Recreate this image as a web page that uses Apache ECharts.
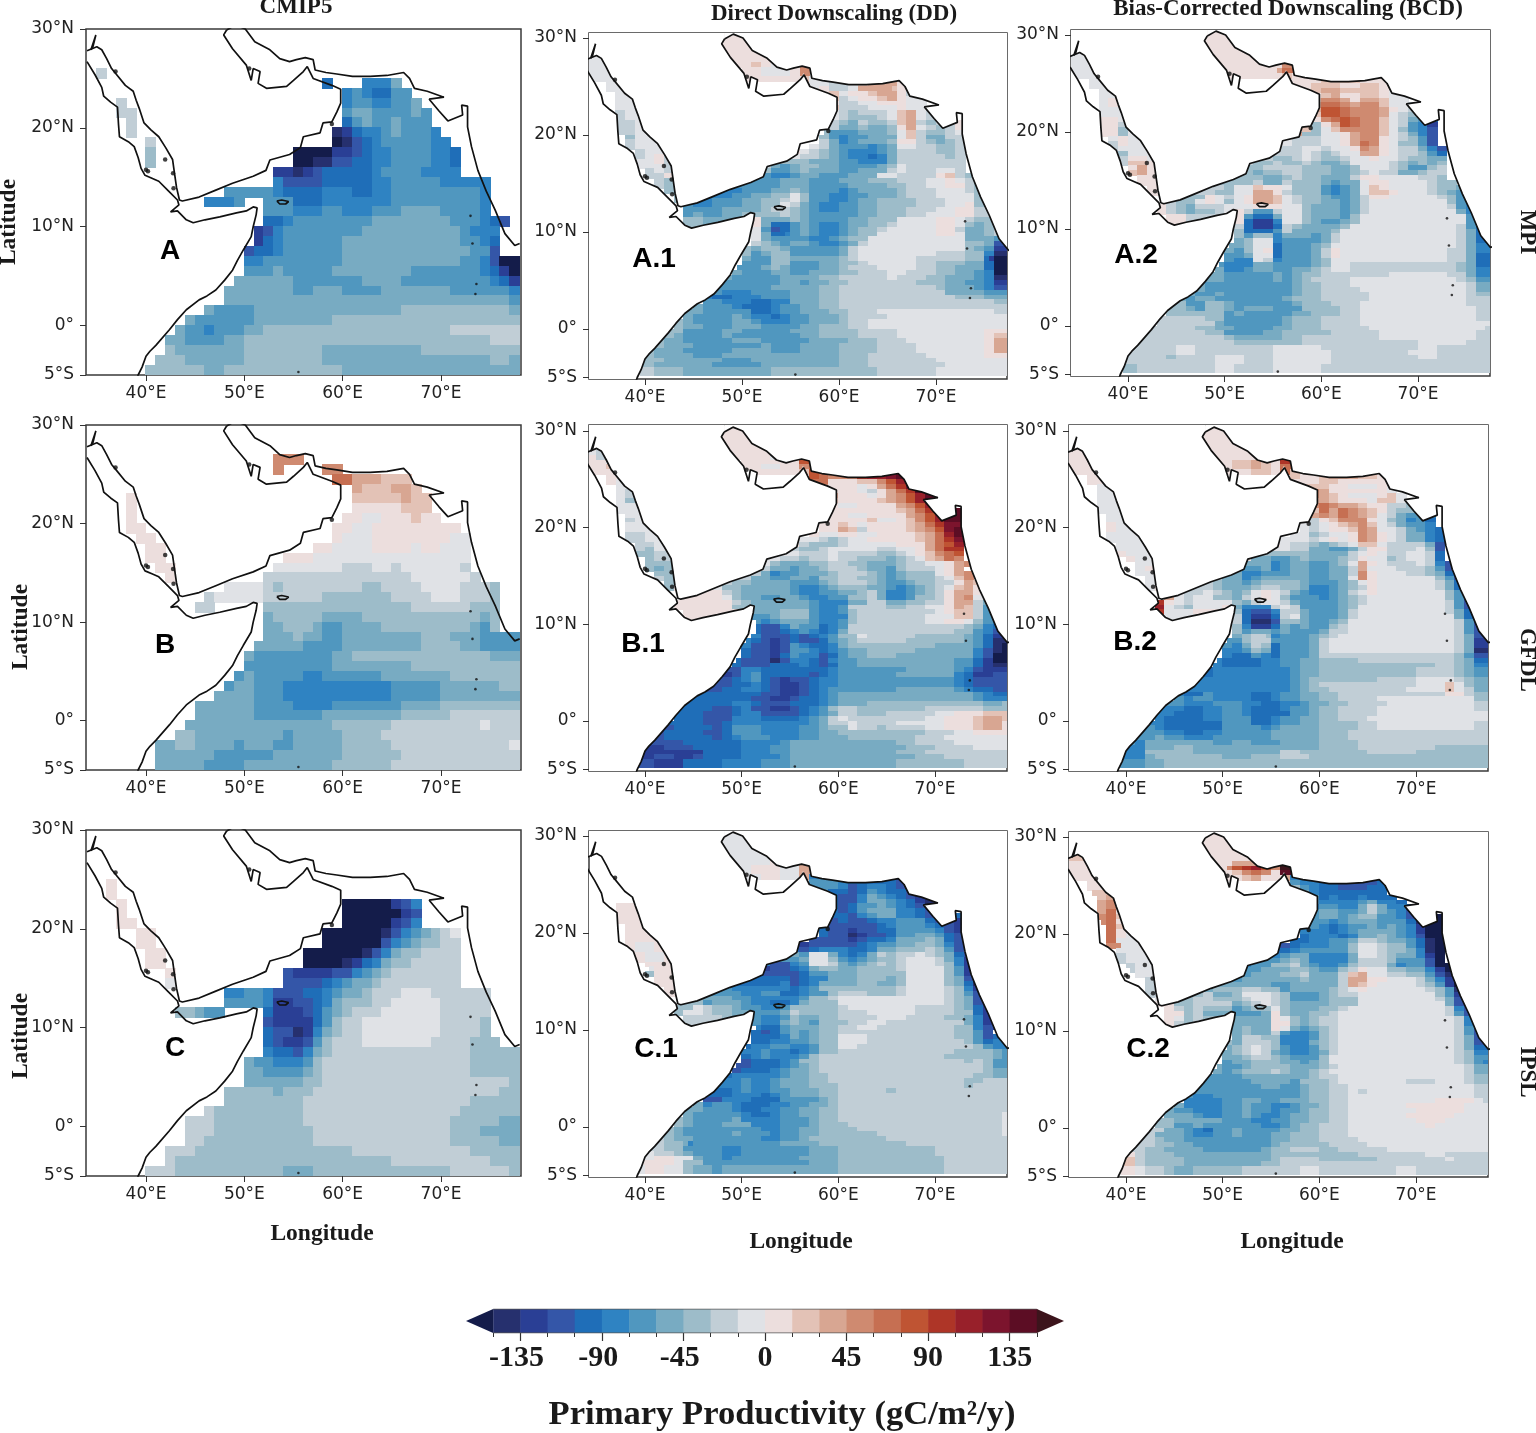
<!DOCTYPE html>
<html><head><meta charset="utf-8">
<style>html,body{margin:0;padding:0;background:#fff}#c{width:1536px;height:1433px}</style>
<script src="https://cdn.jsdelivr.net/npm/echarts@6/dist/echarts.min.js"></script>
</head><body><div id="c"></div>
<script>
// Colour levels: a..t = 15-wide classes from -150 to 150; @ below -150, ^ above 150; x = no data
const levelColors = ['#26306e','#2a3f95','#3456a8','#1f6eb8','#2f83c2','#5097bf','#78abc2','#9dbcc9','#c1ced6','#e0e2e6','#ecdedd','#e3c2b6','#d8a692','#cf8a70','#c66f52','#bf5433','#ae3527','#98202a','#7c142d','#5c0d24'];
const underColor = '#141c4a', overColor = '#3c141c';
const barTicks = [-150,-135,-120,-105,-90,-75,-60,-45,-30,-15,0,15,30,45,60,75,90,105,120,135,150];
const barLabels = [-135,-90,-45,0,45,90,135];
const lonTicks = [40,50,60,70];
const latTicks = [-5,0,10,20,30];

// Rows: "upper latitude | start-lon + class ..." (a class runs until the next start lon; a row reaches down to the next row)
const rowsA = ["26|35i 36x","25|58d 59x 62e 65g 66x","24|60e 61f 62e 63d 65f 67x","23|37i 38x 60e 61f 63e 65f 67g 68x","22|37i 39x 60f 61g 63f 67g 68f 69x","21|38i 39x 60d 61f 62g 63f 65g 66f 69x","20|38i 39x 59a 60b 61d 62e 64f 65g 66f 69e 70x","19|40i 41x 59@ 60a 61c 62d 63e 64f 69e 71x","18|40h 41x 55@ 59b 61c 62d 63e 65f 69e 71d 72x","17|40h 41x 55@ 57a 59c 61d 63e 65f 69e 71d 72x","16|53b 55a 56b 57c 58d 63e 64f 68e 72x","15|53e 54c 58d 63e 65f 70e 75x","14|48f 53e 54d 58e 61d 63e 65f 74e 75x","13|46e 49f 50x 52f 55d 58e 65f 74e 75x","12|52f 55e 58f 60e 63f 66g 70f 74e 75x","11|52d 54e 55f 63g 71f 74e 75d 76c 77x","10|51b 52c 53e 54f 62g 72f 73e 76x","9|51b 52d 53e 54f 60g 72f 74e 75d 76x","8|50c 51d 53e 54f 60g 73f 75c 76x","7|50e 52f 60g 72f 74e 75c 76@","6|50f 53g 54f 59g 67f 74e 75d 76b 77@","5|49g 55f 62g 66f 75e 76d 77b","4|48g 55f 57g 60f 64g 71f 77e","3|48g 77f","2|46g 47f 51g 66h 77g","1|44g 45f 51g 59h","0|43g 44f 46e 47f 50g 52h 71i","-1|42g 44f 48g 50h 75i","-2|42h 43g 50h 58g 68h","-3|41h 44g 50h 58g 75h 77g","-4|40h 46g 48h 60g"];
const rowsB = ["27|53n 56x","26|53n 54x 58n 60x","25|59o 61m 64l 67x","24|61m 62l 65m 67l 68x","23|38k 39x 61l 66m 67l 69x","22|38k 39x 61k 66l 69x","21|38k 39x 60k 62j 64k 67l 68k 70x","20|38k 40x 59k 61j 63k 72x","19|39k 41x 59k 60j 63k 71j 73x","18|40k 42x 57k 59j 63k 67j 68k 70j 73x","17|40k 42x 54k 57j 73x","16|41k 43x 53j 60i 63j 65i 66j 72i 73x","15|42k 43x 52i 67j 73i 74x","14|48j 52i 53h 54i 62h 64i 68j 72i 75h 76x","13|46i 47j 52i 58h 65i 69j 72i 75h 76x","12|45i 47x 52h 67i 73h 76x","11|52g 53h 58g 62h 74g 75h 76x","10|52g 54h 57g 58f 60g 64h 73g 74f 75h 76x","9|52g 55h 56g 58f 60g 68h 71g 74f","8|51g 56f 60g 68h 72g 74f","7|50g 51f 59g 61h 75g","6|50f 59g 67h","5|49f 50g 51f 56e 58f 64g 71h","4|48f 49g 51f 54e 65f 70g 76h","3|47g 51f 54e 65f 70g","2|45g 51f 55e 59f 66g 70h","1|45g 51f 58g 66h 71i","0|44g 59h 65i 74j 75i","-1|43h 45g 54f 55g 60h 64i","-2|41g 43h 45g 49f 50g 53f 55g 60h 65i 77j","-3|41g 47f 53g 60h 66i","-4|41g 46f 50g 59h 65i"];
const rowsC = ["25|36k 37x","24|36k 37x","23|37k 38x 60@ 65b 66c 67e 68x","22|37k 38x 60@ 66b 67c 68x","21|37k 39x 60@ 65b 66c 67e 68x","20|39k 41x 58@ 64a 65c 66e 67f 68g 69h 70i 71j 72x","19|39k 41x 58@ 64c 65e 66f 67g 68h 70i 72x","18|40k 42x 56@ 62a 63c 64e 65g 66h 68i 72x","17|40k 42x 56@ 60a 61b 62d 63e 64g 65h 67i 72x","16|42k 43x 54c 55b 59c 61e 62f 63g 64h 65i 72x","15|42j 43x 54c 58d 59e 60f 61g 63h 64i 72x","14|48e 50f 52e 53c 56d 58e 59f 60g 62h 63i 66j 69i 75x","13|48f 52e 53b 55c 57d 58e 59g 60h 63i 65j 70i 75x","12|43h 45g 46f 48x 52d 53b 56c 57d 58f 59g 60h 61i 64j 70i 75x","11|52c 53b 57d 58f 59h 60i 62j 70i 74h 75x","10|52d 53c 55a 56b 57e 58g 59h 60i 62j 70i 74h 75x","9|52d 53c 54b 56c 57f 58h 59i 62j 69i 73h 76x","8|52e 53d 55c 56e 57g 58h 59i 73h","7|50g 51f 53e 56f 57h 58i 73h","6|50g 52f 56g 57h 58i 73h","5|50g 56h 58i 77h","4|48h 53g 54h 57i 76h","3|48h 56i 73h","2|46i 47h 56i 72h","1|44i 47h 56i 71h 76g","0|44i 47h 57i 71h 74g","-1|44i 46h 57i 71h 76g","-2|42i 45h 61i 73h","-3|42i 43h 65i 75h","-4|40i 43h 54g 57h 71i 77h"];

const rowsA1 = ["30.5|47k 52x","28.5|34j 38x 47k 53x","27.5|34j 38x 49k 51l 52k 53j 55k 56m 57x","27|34j 38x 50k 52j 54j 55k 56n 57x","26|34j 39x 50k 53k 56.5l 57j 60j 62k 63l 66k 67j 68x","25.5|36j 40x 57j 59i 61j 62l 63m 66k 67j 68x","25|36j 40x 57j 58k 59i 60i 61j 62m 65.5l 66k 67j 68x","24.5|37j 41x 58k 59l 60j 61k 63l 64m 66k 67i 68j 69x","24|37j 41x 58.5j 59l 60i 61j 62k 64l 65m 66k 67j 69x","23.5|37j 41x 59k 60i 62j 64k 66k 67j 69x","23|37j 41x 59l 60i 62i 63j 66k 67j 69j 70x","22.5|37i 38j 41x 59j 60i 61h 62i 63i 65j 66l 67m 68j 69i 70j 71x","22|37i 38j 42x 59j 60i 61h 63h 64i 65j 66l 67m 68j 69i 70j 72x","21.5|37i 39j 42x 59i 60h 61g 62i 63h 65i 66l 67m 68i 69h 70i 71j 72k 73x","21|37i 39j 42x 59i 60g 61g 62h 63g 65h 66k 67m 68j 69i 70h 71i 72k 73x","20.5|37i 39j 42x 58.5h 59f 61f 62g 63g 65h 66j 67l 68i 69h 70h 71i 72j 73x","20|38h 39j 42x 58h 59f 60e 61f 63g 65g 66j 67l 68i 69g 70g 71i 72i 73x","19.5|38i 39j 43x 58i 59g 60e 61f 62g 64g 65h 66k 67k 68i 69h 70g 71h 72i 73x","19|38i 39j 43x 57j 58i 59g 60f 62f 63e 64f 65g 66j 68i 70h 71h 72i 73x","18.5|39i 40j 43x 55k 56j 57i 58h 59g 60f 61e 63e 64f 65g 66i 68i 70h 72i 73x","18|39i 40j 41k 42i 44x 55j 56i 58h 59g 60f 61e 63d 64e 65g 66i 68i 71h 72i 73x","17.5|39j 41k 42i 44x 53i 54h 56h 57g 59g 60f 61f 62e 64e 65g 66i 69i 72i 73x","17|39j 41j 42i 44x 52i 53g 54f 55g 56h 58g 60f 63f 64g 65h 66j 67i 70i 73x","16.5|40i 41j 42i 44x 52h 53f 55g 56h 57g 59g 60f 62g 65i 66j 67i 70j 72i 73x","16|40i 42k 43i 44x 51h 52f 53e 55f 56g 58f 60f 61g 64j 66i 70k 71l 72i 73h 74x","15.5|41i 42h 44x 49h 50g 51f 53f 54g 57f 59f 60g 63h 65h 66i 69j 71k 72j 73i 74x","15|41i 42h 44x 47h 48f 50f 52f 54g 57f 61g 65h 67i 69j 71k 73i 74h 75x","14.5|42h 43f 44x 45g 46f 48e 50f 53g 55h 56g 57f 60e 61f 62g 65g 66h 67i 70j 72j 73i 74h 75x","14|43h 44f 46f 47e 49f 51g 53h 55j 56h 57f 59e 61f 63g 66h 67i 70j 73j 74h 75x","13.5|43h 44f 45e 47f 50g 52h 54i 55j 56h 57f 59e 60e 61f 62g 64h 68i 71j 73j 74h 75x","13|44f 45e 46e 47f 50g 52h 54j 55i 56g 57f 58e 60f 62g 64h 68i 71j 73k 74h 76x","12.5|44f 46f 48g 50g 52h 53i 54i 55h 56g 57f 58e 59e 60f 62g 64h 67i 70j 72k 74i 76x","12|44f 45g 46f 48g 50h 52h 54i 55h 56g 57f 60f 62g 64h 67i 69j 72k 74i 76x","11.5|44h 46g 50h 51k 52g 54g 55h 56g 57f 59f 61g 63h 66j 70k 72j 73i 74h 76x","11|44h 46g 50k 52g 53d 55f 56g 57f 58e 60f 61g 63h 65i 66j 70k 72j 73h 74g 75h 76x","10.5|51j 52f 53c 54d 55f 56g 57f 58e 60f 61g 62h 64i 65j 70k 72i 73g 75h 76i","10|51j 52g 53d 54.5e 55f 56g 57f 58e 60f 61g 62h 64j 70k 72j 73g 75h 76i","9.5|51j 52g 53f 54.5f 56f 57e 58e 59f 60g 61h 63j 72j 73g 75g 76f","9|51i 52h 53g 54f 55g 57f 58e 60f 61g 62i 63j 72j 73h 75g 76c","8.5|50h 51g 52h 53h 54g 55f 56f 58f 60g 61i 62j 71j 73h 74g 75f 76b","8|50h 51f 52g 53h 55f 58f 60g 61i 62j 68j 70i 73h 75e 76a","7.5|50g 51f 53h 55g 57g 58g 60h 61i 62j 67j 68i 70i 73h 75d 75.5b 76@","7|50f 53h 55f 58g 60h 62i 63j 68i 70h 73g 75d 76@","6.5|49.5f 52g 53h 54g 55f 57f 58g 60h 61i 64j 67j 68i 70h 72g 75d 76@","6|49g 50f 53g 55f 57g 60h 62i 65j 67i 70h 72g 74f 75e 76@","5.5|48.5g 49f 52f 54g 56g 58h 60i 65j 66i 69h 71g 74f 75e 76a","5|48f 54g 56f 57g 59h 61i 68h 71g 73f 75e 76b","4.5|47.5f 53g 54g 57g 58h 60i 70h 71g 74f 75e 76c","4|47f 48e 51f 53f 55g 58h 60i 70i 71g 75f","3.5|46.5e 47d 49e 51e 52f 55g 58h 60i 70i 72h 75g","3|46f 48e 50e 51d 53e 55g 58h 60i 73i 76h","2.5|45g 46f 49e 50d 52d 53e 54f 56g 58h 60i 75i","2|44g 46f 50f 51d 53e 54f 56g 59h 61i 64j 76i","1.5|44g 45f 49g 50f 51e 53d 54e 55f 57g 60h 61i 65j","1|43h 44g 45f 49g 51f 52e 54e 55f 57g 60h 61i 63j","0.5|43h 44g 46f 49g 52f 54f 55f 56g 58h 61i 63j","0|42h 44f 48g 50f 55g 58h 62i 66j 75k","-0.5|42h 43g 44f 47f 48g 49f 54f 56g 58h 62i 66j 75k 76l","-1|41h 42g 44f 49g 52f 57g 61h 64i 67j 75k 76m","-1.5|41h 42g 44g 45f 49f 52g 53f 55f 56g 60h 64i 68j 75k 76m","-2|40h 41g 44f 49g 53f 56g 60h 64i 68j 75k 76m","-2.5|40h 41g 45f 48g 52g 58g 60h 63i 69j 75k","-3|40h 42g 46g 48f 51g 60h 63i 70j","-3.5|39.5h 41g 47f 52g 60h 63i 71j","-4|39.5i 41h 44g 47g 53h 64i 70j"];
const rowsA2 = ["30.5|47k 52x","28.5|34j 38x 47k 53x","27.5|34j 38x 49k 54k 55k 56n 57x","26.5|34j 38x 50k 54k 55.5m 56o 57x","26|34j 39x 50k 54k 56l 57k 60l 63l 66k 67x","25.5|36j 40x 57k 60l 64k 66k 67x","25|36j 40x 57k 59l 61l 62k 64l 66k 67x","24.5|37j 40x 58k 59l 60m 62l 64l 66k 67j 68x","24|37j 41x 58.5k 60l 61m 62k 64l 66k 67j 69x","23.5|37j 38k 41x 59l 60n 62m 63k 64m 66l 67j 69x","23|37j 38k 41x 59m 60o 61o 62n 63m 64n 66l 67j 69i 70x","22.5|37j 41x 59m 60p 61p 62o 63n 66m 67k 68j 69i 70h 71x","22|37j 41x 59l 60p 61p 62o 63n 66m 67j 68i 69h 70g 71f 72x","21.5|37k 39j 42x 59k 60n 61o 62p 63o 64n 66l 67j 68i 69g 70f 71d 72x","21|37k 39i 42x 58m 59h 60k 61m 62p 63o 64n 66l 67j 68i 69f 70e 71b 72x","20.5|37k 39h 40j 42x 58l 59h 60j 61l 62n 63n 65n 66l 67j 68h 69f 70e 71c 72x","20|37k 39h 40j 42x 57m 58h 60j 62k 63m 64n 66l 67j 68i 69g 70e 71c 72x","19.5|38j 39k 40j 43x 56j 57i 60j 62k 63m 64n 66k 67j 68i 69h 70f 71c 72x","19|38i 39k 40j 43x 55j 57i 60j 62k 63m 64o 65n 66k 67j 68h 70f 71c 72x","18.5|38.5i 39j 41j 43x 54j 55i 58j 60i 61j 63k 64n 65m 66k 67j 68i 70g 71e 72c 73x","18|39h 40j 43x 53j 55i 58j 59i 60h 61i 62j 64m 65m 66k 67j 68i 70h 71f 72d 73x","17.5|39i 40k 42j 43x 52j 53i 55h 57i 58j 59i 60h 62i 63j 65k 66j 68i 69h 71g 72g 73x","17|39i 40l 42k 43x 52i 53h 55i 56h 58i 59h 60g 62h 63j 67i 68h 69g 70h 71g 72h 73x","16.5|40k 41m 42k 44x 51i 52h 54i 56i 58h 60h 61g 63h 64j 67i 68h 69f 71h 72i 73x","16|40l 41m 42k 44x 50h 53g 54h 56i 58h 60h 61g 63h 64i 65j 66i 68g 70h 71i 73x","15.5|41k 43k 44x 49i 50h 53h 54g 56h 57i 58h 60g 61g 63i 64k 66j 70i 72h 73x","15|41k 43k 44x 48i 49h 53i 54g 56i 57h 60g 61f 62g 64j 65k 67j 71i 72h 74x","14.5|42k 44x 47h 48i 50h 51j 53l 54k 56j 57h 60f 61e 62f 63g 64j 65l 66k 67j 71i 72h 74g 75x","14|42k 44x 46h 47i 49h 51j 53m 55k 56i 57h 60f 61e 62f 63g 64j 65l 67k 68j 71i 72h 73g 74f 75x","13.5|44i 45h 48k 49j 50i 51j 52k 53m 55l 56j 57i 58h 60g 61f 63g 64i 65k 67j 72i 73h 74f 75x","13|44i 45h 47j 48k 49j 50h 51j 52k 53m 55l 56j 57i 58h 60g 62f 63g 64i 65j 73h 74f 75x","12.5|43k 44i 45h 46g 47i 49i 50j 52j 53k 55k 56j 58h 59g 61g 62f 63g 64i 65j 73i 74f 75e 76x","12|43k 44i 45h 46g 47h 49i 50j 51k 52i 53f 55i 56j 58h 59g 62f 63g 64i 65j 73j 74g 75e 76x","11.5|44k 46i 50i 51k 52f 53d 55g 56j 58h 59g 60g 62f 63h 64j 74j 75f 76d 77x","11|44k 46i 50i 51k 52d 53b 55e 56j 58h 59g 60f 62g 63h 64j 74j 75f 76d 77x","10.5|51i 52d 53b 55d 56i 57h 58g 60g 61g 62h 63j 74i 75f 76d","10|51h 52d 55f 56i 57g 60g 61h 62j 74i 75g 76d","9.5|51h 52f 53h 55e 56g 57g 59f 60g 61i 62j 74i 75g 76d","9|51g 52h 53j 55e 56f 59f 60g 61i 62j 74i 75g 76d","8.5|50.5g 51g 52h 53j 54j 55d 56f 59g 60h 61j 74i 75g 76e","8|50g 51f 52h 53j 54k 55d 56f 59g 60i 61k 62j 73i 75g 76e","7.5|50f 51f 52g 53j 54j 55d 56f 59g 60i 61k 62j 73i 75g 76d","7|50f 51e 53j 54i 55e 56f 59g 60h 61j 73i 75g 76d","6.5|49.5f 50e 52e 53g 54g 55f 57f 59g 60h 61j 63i 72i 74h 75g 76d","6|49g 50e 52f 53g 55f 57g 59h 60i 61j 63i 74h 75g 76e","5.5|48.5g 50f 54f 55g 56f 57g 58h 59h 60i 62i 64i 67j 72j 73i 75g 76e","5|48g 50f 54f 55g 56f 57g 58h 59i 63j 73j 74i 75h 76f","4.5|47.5g 48f 53f 55f 57g 58h 60i 63j 74j 75i 76g","4|47g 48f 55f 57g 58h 60i 64j 74j 75i 76g","3.5|46g 47f 49g 50f 56f 57g 58h 60i 65j 75i 76h","3|45g 46f 47g 49f 56g 57h 60i 65j 75i","2.5|44.5h 46f 48h 50g 51f 56f 57g 58h 60h 61i 64j 75i","2|44h 46g 47f 48h 50g 51f 52g 55f 58h 60h 62i 64j 76i","1.5|44h 47h 49h 50f 51g 52f 57g 59h 62i 64j 76i","1|43i 48h 50f 56g 57h 60i 64j 76i","0.5|43i 48i 49g 50f 56g 57h 60i 64j","0|42i 47h 49g 51f 55g 57h 60i 65j 77i","-0.5|42i 48h 50f 51f 54g 56h 59h 61i 65i 66j 76i","-1|41i 50h 51g 56h 58i 66j 76i","-1.5|41i 45i 50i 51h 53h 56h 58i 70j 75i","-2|40i 45j 47i 54i 55j 58j 60i 70j 72i","-2.5|40i 44i 45j 47i 49i 55j 59j 61i 69j 72i","-3|40i 44h 45i 49j 52i 55j 59j 61i 70j 72i","-3.5|39.5i 41i 49j 52i 55j 60j 61i 68i","-4|39.5h 41i 48i 49j 51i 55j 60i"];

const rowsB1 = ["30.5|47k 52x","28.5|34j 38x 47k 53x","28|34j 35i 36j 38x 48k 53x","27.5|34k 35i 36j 38x 49k 52k 53j 55k 56o 57x","27|34k 35k 36j 38x 50k 53k 55k 56p 57x","26.5|34k 36l 38x 50k 52j 54k 55k 56n 57o 58x","26|34k 36k 38x 51k 54k 56l 57p 59n 61n 62q 64r 65s 66t 67x","25.5|36k 39x 57p 58o 59n 60n 62q 63r 65s 66t 67x","25|36k 37j 40x 57o 59k 62l 64n 65p 66r 67s 68x","24.5|37j 40x 57.5o 58n 59k 62j 63k 64m 65o 66q 67s 68t 69x","24|37j 38i 40x 58n 59k 62j 63i 64k 65m 66o 67q 68t 69x","23.5|37j 38i 41x 59m 60k 63j 64k 65m 66n 67p 68r 69t 70x","23|37j 38h 39j 41x 59l 60k 64l 65m 66n 67p 68r 69t 70x","22.5|37j 41x 59k 60j 62k 65k 66m 67n 68p 69r 70t 71x","22|37j 41x 59k 61k 65k 66l 67m 68o 69q 70s 71t 72t 73x","21.5|38j 42x 59k 61j 63k 66k 67m 68n 69p 70r 71t 73x","21|38i 39j 42x 59k 60k 63l 64j 66k 67l 68n 69p 70r 71t 73x","20.5|38j 42x 58k 60l 61k 62j 63k 66k 67l 68m 69o 70q 71s 73x","20|38j 42x 58k 60m 61l 62i 63k 67l 68m 69n 70p 71s 72t 73x","19.5|38i 40j 43x 57k 58j 60k 62j 64k 67k 68l 69m 70o 71r 72t 73x","19|38i 40j 43x 56j 58i 59h 60i 61j 63k 67k 68l 69m 70o 71q 72s 73x","18.5|39i 40i 41j 43x 54k 56i 57h 58h 60i 61j 64j 66k 68k 69m 70o 71p 72r 73x","18|39i 40h 41j 43x 53k 55i 56h 58i 59j 64i 66j 68k 69m 70o 71q 73x","17.5|39h 41i 44x 52k 54j 56i 58i 59j 60i 63i 64h 66i 67j 68k 69l 70n 71o 72p 73x","17|40h 41i 44x 51k 52j 54i 56h 57i 59j 60i 62h 65g 66h 67i 68j 69l 70m 71o 72n 73x","16.5|40h 41h 42h 44x 50k 51j 53h 54g 56g 57h 59i 61h 63g 65g 66h 67i 69j 71k 72m 73n 74x","16|40h 41g 42h 44x 50k 52i 53g 55f 56g 58h 59i 62h 63g 65f 66h 67i 70j 71k 72m 73x","15.5|41h 42h 44x 49j 50i 52g 53e 54f 56g 57g 59h 60i 63h 64g 65f 66g 67h 70j 71k 72m 73n 74x","15|41i 42h 44x 48k 49i 51g 53f 55g 57f 58h 60i 62h 64g 65f 66g 67h 70i 71j 72l 73n 74x","14.5|42h 44x 46k 48i 49h 51g 54g 55f 57f 58g 59h 60i 63h 64g 65f 67g 68h 70i 72k 73m 74l 75x","14|42h 43k 44x 44k 47j 48h 50g 55f 56e 58f 59g 60h 63g 65f 66e 67f 68g 69h 70i 71j 72l 73m 74k 75x","13.5|44k 47k 48i 49h 50g 53g 55f 56e 58f 60g 62h 63i 64g 65e 67f 68g 69h 70i 71k 72m 73m 74k 75x","13|44k 48j 49h 50g 52f 54g 56f 57e 59f 61h 63i 64g 65e 67f 68h 70i 71k 72m 73n 74j 75x","12.5|43k 48k 49i 50h 51g 54g 56g 57f 58e 60e 61g 63i 65g 67h 69i 71k 72m 73m 74i 75g 76x","12|43k 49h 51g 56g 57f 58e 60f 61i 65h 67i 69j 71k 72m 73l 74i 75f 76x","11.5|44k 49k 51g 52g 54h 56h 57f 58e 60f 61h 62i 67i 70j 71k 72l 73l 74i 75f 76x","11|44k 51f 53g 54h 57f 58e 61h 62i 69j 72l 74i 75f 76x","10.5|51.5f 52e 53f 54g 56g 57f 58e 60f 61h 62i 69j 71k 72k 73j 74h 75f 76e","10|51.5d 52c 54e 55g 56f 58d 59e 60f 61i 69i 71i 73h 74g 75e 76d","9.5|51.5d 52c 54d 55e 56f 57e 58d 59e 60g 61i 68i 72h 74f 75e 76c","9|51e 52c 55d 56c 57d 58e 59f 60h 62j 63i 68h 73g 74f 75d 76b","8.5|50.5e 51d 52c 53b 54c 55d 56c 57c 58d 59f 60g 61h 62i 67h 72h 73g 74f 75d 76a","8|50e 51c 53b 54c 55f 56e 57d 59e 60g 61h 70g 74f 75d 76a 77@","7.5|50d 51c 53b 54c 55f 56f 57e 58d 59e 60f 61g 63h 68g 74e 75c 76a 77@","7|50d 51c 53b 54d 55f 56e 58c 59d 60f 61g 63h 66g 74e 75c 76@","6.5|49.5d 50c 52c 53a 54c 55e 56e 57d 58c 59e 60f 62g 72f 74d 75b 76@","6|49d 50c 53d 56e 57d 58c 59d 60f 62g 72f 74d 75b 76a","5.5|48.5c 49c 50e 52d 54d 56d 57d 58d 59e 60f 64f 67g 72f 73e 74c 75b 76b","5|48b 49c 50e 51f 52d 57c 58d 59e 60f 66g 72e 73d 74b 76c","4.5|47.5c 49d 50e 51f 52d 53c 54b 55c 57d 58e 60f 70f 72e 73d 74c","4|47c 49d 51e 52d 53c 54b 56c 57d 58e 60f 71f 72e 73d 74c","3.5|46c 48d 50e 52d 53c 54b 56c 57d 58e 59f 62f 66g 72f 73e 74d 76c","3|45d 50d 52c 54b 56c 57d 58e 59f 60g 74f 75e 76d","2.5|44.5d 49d 50d 51c 53b 55c 56d 58e 59f 60g 62g 68g 72g 74f 75e","2|44d 49e 51d 52c 55d 58e 59f 60g 63h 75g 77h","1.5|43.5d 46d 47c 49d 50e 51c 53b 55c 56d 57e 58f 59h 60i 62h 65h 69i 73i 75h","1|43d 46c 49d 50e 52c 56d 57e 58f 59g 60i 62h 65i 70j 72k 75l","0.5|43d 45d 46c 48c 49e 52d 54d 56e 57f 58g 59i 60j 61i 64i 69j 71k 74l 75m 77l","0|42d 44d 46c 48d 49e 57f 58g 59i 61j 62i 66j 71k 74l 75m 77k","-0.5|42c 43d 47c 48d 49f 51f 52e 56f 58g 59h 61j 62i 64h 65i 69j 71k 74l 75m 77k","-1|41c 42d 46c 48d 49f 52e 56f 58g 60h 69i 72j 74k","-1.5|41c 42d 47c 48d 49e 50f 52f 53e 56f 58g 61h 68i 71j 74j","-2|40c 44d 50e 54f 55g 66h 68i 72j","-2.5|40b 42c 44c 45d 50e 53f 55g 63g 67h 70i 74j","-3|39.5b 43b 46d 50e 53f 55g 66h 69i 75i","-3.5|39.5b 41c 43b 45c 46d 50e 54f 55g 68h 71i","-4|39c 41b 44d 48e 52f 55g 66h 73i"];
const rowsB2 = ["30.5|47k 52x","28.5|34k 38x 47k 53x","27.5|34k 38x 49k 51k 53k 55k 56p 57x","27|34k 38x 49.5k 51l 52l 53m 54l 55k 56q 57x","26.5|34k 38x 50k 51l 53m 54l 55k 56o 57x","26|34k 39x 50k 53l 55k 56o 57l 60l 62m 64l 66k 67x","25.5|36k 39x 57l 58k 60l 61m 64l 66k 67x","25|36k 40x 57k 60l 62k 67j 68x","24.5|37j 40x 57k 58l 60l 61k 63j 66k 67j 68x","24|37j 40x 57l 58m 59n 60m 61k 66k 67j 68x","23.5|37j 41x 59n 60m 61l 62k 63j 65j 66k 67l 68j 69x","23|37j 41x 59m 61l 62k 65j 66l 68j 69x","22.5|37j 41x 59n 60o 61n 62m 64l 65k 66k 67i 68i 69h 70x","22|37j 41x 59l 60o 61m 62o 63n 64m 65l 66k 67i 68h 70g 71f 72x","21.5|38j 42x 58.5k 59m 60n 61m 62o 63n 64m 65l 66j 67i 68g 69f 70f 71e 72x","21|38j 42x 58i 60k 61l 62n 65k 66j 67h 68g 69e 70f 71d 72x","20.5|38k 39j 42x 58j 59i 60j 61k 62l 63m 64n 65l 66j 67i 68g 69f 70f 71e 72x","20|38k 39j 42x 58j 59i 60j 61k 63l 64n 65m 66j 68i 69g 70f 71e 72d 73x","19.5|38j 43x 57j 58j 59h 60i 61j 62j 63k 64n 65m 66k 67j 68i 69g 71e 72d 73x","19|38j 43x 56j 59i 60j 61k 62j 63k 64n 65m 66k 67j 68i 69g 71e 72d 73x","18.5|39j 43x 55k 56j 57i 59h 60g 61h 62i 63j 64l 65l 66j 67i 69i 71g 72c 73x","18|39j 43x 54k 55j 57i 59g 61f 63g 64i 65k 67i 70j 71h 72c 73x","17.5|39k 40j 43x 53j 54h 56h 58h 59g 62g 63i 64j 65k 66j 67i 68i 69j 70j 71i 72d 73x","17|40k 41j 44x 52k 53g 55f 57g 58h 59g 62h 63i 64k 65j 67h 68i 69j 71i 72d 73x","16.5|41j 44x 51j 52g 54g 55e 56f 57g 59f 61g 62h 63j 64m 65k 66j 67i 68i 70j 71i 72e 73c 74x","16|41j 42k 44x 51h 52f 54g 55e 56f 57g 59f 61g 63i 64m 65j 68i 71h 72f 73c 74x","15.5|41j 44x 50h 51g 52e 54f 55f 57g 59f 61g 63i 64n 65k 66j 69i 71h 72g 73d 74x","15|42j 44x 49i 50g 52e 53f 54g 59f 61g 63j 64n 65k 66j 72h 73f 74c 75x","14.5|42j 44x 47i 49h 50g 52f 53g 54h 56h 58g 59f 60f 61f 62g 63h 64j 65k 66j 72i 73g 74d 75x","14|42j 43k 44x 46i 49h 50g 53h 54i 56h 58g 59e 61f 62g 63h 64i 65k 66j 72i 73g 74d 75x","13.5|44j 45j 46i 48j 49i 50h 51g 52h 53j 54k 55j 56i 57g 58f 59e 60e 61f 62g 63i 64j 65k 66j 73h 74f 75c 76x","13|44m 45j 46i 47j 49h 51g 52i 53j 54k 55j 56h 57f 60e 61f 62g 63h 64i 65j 73h 74f 75c 76x","12.5|43q 44k 45j 46i 47j 50j 51h 52g 53i 54j 55j 56i 57g 58f 62g 63h 64i 65j 73i 74f 75c 76x","12|43r 44j 45i 46h 47j 50k 51g 52e 55i 56j 57i 58f 62g 63h 64j 73i 74f 75c 76x","11.5|43q 44j 46j 47k 50k 51h 52d 53c 55e 56i 57i 58g 59f 62g 63i 64j 73i 74g 75d 76c 77x","11|43p 44j 51i 52d 53b 55d 56i 57j 58g 59f 62g 63i 64j 73j 74g 75d 76b 77x","10.5|51i 52d 53a 55c 56h 57h 58g 59f 61g 62h 63j 74i 75f 76c 77x","10|51h 52e 53b 55d 56g 57f 58g 59f 61h 62i 63j 74i 75f 76c","9.5|51h 52f 53g 55f 56g 57f 58f 60g 61i 63j 74i 75f 76c","9|51g 52h 53i 54.5h 55e 56f 59g 60h 61i 62j 74i 75g 76c","8.5|50.5f 51f 52h 53i 54i 55f 56f 59g 60i 61j 74i 75g 76b","8|50f 51e 52g 53i 54h 55d 56f 59g 60i 61j 74i 75g 76b","7.5|50e 51e 52f 53h 54g 55d 56f 59g 60i 61j 74i 75g 76a","7|50e 51d 53f 54e 55d 56f 59g 60i 72i 74h 75f 76c","6.5|49.5e 50d 54e 55e 56f 58g 60h 64i 72i 74h 75g 76d","6|49e 50d 54e 56f 58g 60h 72i 74h 75g 76e","5.5|48.5d 49e 50e 54e 56e 57f 58g 60h 70i 74h 75g 76f","5|48d 49e 56e 57f 58g 60h 70i 74h 75g 76f","4.5|47.5e 56e 57f 58g 59h 60h 66i 70j 74i 75h 76g","4|47e 56e 57f 58g 59h 60i 70j 73l 74j 75h 76g","3.5|46e 48e 56e 57f 58g 59h 60h 61i 69j 72j 73l 74j 75i 76g","3|45e 46d 48f 49e 53d 55e 56f 58g 60h 62i 73k 75i 76h","2.5|45f 46e 47f 49e 52e 53d 55e 56f 58g 60h 62i 66j 75j 76h","2|44f 46e 49f 52e 54d 56e 58f 59g 61h 63i 67j 76i","1.5|43.5e 46d 48e 50f 52e 53d 56e 57f 59g 60h 62i 66j 76i","1|43e 45d 48e 50f 52e 53d 57f 59g 60h 62i 66j","0.5|43e 44d 48e 50f 52f 53d 55e 56f 58g 60h 62i 65j","0|42e 44d 50f 53d 55e 56f 58g 60h 64i 66j 76i","-0.5|42f 43e 44d 49d 50f 52f 54e 55f 56g 58g 60h 64i 66j 76i","-1|41f 44e 46d 48e 50f 55g 60h 63i 70i","-1.5|41f 43g 44f 46e 48e 49f 53f 55g 60h 63i","-2|40f 41e 42g 46g 49f 51g 53f 56g 60h 64i","-2.5|40e 41e 42g 45h 47g 50g 56g 60h 64i 72h","-3|39.5e 42h 47g 52g 56i 58h 65i 70h","-3.5|39.5e 41e 42g 43h 47h 50g 53h 56i 59h 70h","-4|39f 42g 44h 65h 70h"];

const rowsC1 = ["30.5|47j 52x","28.5|47j 53x","27.5|49j 53k 55j 56m 57x","27|49.5j 51k 54j 56m 57x","26|50j 52k 54j 56m 57e 59f 61f 62d 67x","25.5|57f 59f 60e 61d 62d 64d 66c 67x","25|57f 60e 61c 62d 63e 65d 66c 67x","24.5|57.5g 58f 59d 60d 61c 62d 63f 64e 65d 66d 67c 68x","24|58g 59d 60c 62e 63g 64f 65e 66d 67c 68b 69x","23.5|59d 60c 61c 62e 63g 64g 65f 66e 67d 68b 69a 70x","23|37k 41x 59d 60c 61d 62f 64g 65f 66e 67d 68c 69a 70x","22.5|37k 41x 59d 60c 61d 62f 63g 65g 66e 67e 68d 69c 70a 71x","22|37k 41x 59d 61c 62e 63f 64g 66e 68d 69c 70b 71d 73x","21.5|37k 41x 59c 60d 61c 63d 64e 66f 67f 69d 70c 71c 72b 73x","21|38k 42x 59c 64d 65e 66f 69e 70d 71c 72b 73x","20.5|38k 42x 58d 59c 61b 62c 64d 66f 67f 69f 70e 71c 72b 73x","20|38k 42x 58d 59c 61a 62b 63c 65d 66f 68g 70f 71d 72c 73x","19.5|38k 42x 57c 58c 60c 61b 62c 63d 65e 66g 68g 69h 70g 71d 72c 73x","19|38k 39j 41k 43x 56b 57c 62d 63e 64f 66g 68h 70g 71e 72c 73x","18.5|38.5k 39j 41k 43x 55d 56c 57d 58e 60e 61d 62d 63e 64g 66h 68h 69i 70h 71f 72c 73x","18|39k 40j 42k 43x 54g 56f 57j 59g 60e 61d 62e 63g 64i 65h 66i 68j 69i 70h 71g 72d 73c 74x","17.5|39k 40j 42k 43x 53g 54f 56g 57j 59h 60f 61e 62f 63g 64h 65h 66i 67j 70i 71g 72e 73b 74x","17|40k 42k 44x 52e 53c 55e 56f 57j 59i 60g 61f 62g 63h 64i 65h 66i 67j 70i 71h 72e 73b 74x","16.5|40.5j 41k 44x 51c 52b 53c 55d 56e 57g 58h 60g 62h 63h 65h 66i 67j 71h 72f 73b 74x","16|40h 41k 44x 50b 51c 55c 56d 57f 59g 62h 66h 67j 71h 72f 73b 74x","15.5|41k 44x 49c 51d 52d 54d 55c 56d 57e 59g 62h 65g 66h 67j 71h 72g 73c 74a 75x","15|41k 44x 48e 49d 52d 54e 55c 56d 57e 58g 62h 64g 66h 67j 71h 72g 73d 74a 75x","14.5|42k 44x 46f 47f 49e 52e 54e 55d 56e 57f 58h 61h 64h 66i 67j 71i 72h 73e 74b 75x","14|42k 44x 45g 46f 48f 50e 52f 54d 56e 57f 59h 60i 63h 66i 67j 71i 72h 73f 74c 75x","13.5|44h 46g 47g 49f 50f 51e 53e 55e 56f 57h 59i 60j 64j 71i 72h 73g 74c 75b 76x","13|44h 46f 47g 50f 51e 53d 55e 56g 57h 60j 71i 72h 73g 74c 75b 76x","12.5|43h 44h 45j 46i 47h 49g 50f 51f 52e 54f 55h 56h 60i 61j 66j 68i 72h 73g 74d 75b 76x","12|43h 44j 46i 47h 49g 51f 54g 55i 56h 60i 63j 68i 72h 74d 75b 76x","11.5|44i 46i 48h 49g 51f 52e 53e 54f 55h 56g 58h 60i 62i 64j 67i 71h 73g 74e 75b 76x","11|44i 48h 50f 52e 54g 55h 56g 57f 58h 61i 63j 65i 73g 74e 75b 76x","10.5|51.5e 52d 53d 54f 55g 56g 57g 58h 60i 62j 64i 72h 74e 75c 76b 77x","10|51d 52c 53d 54f 55g 56f 57g 58h 60i 72h 74f 75c 76x","9.5|51d 52d 53d 54e 55g 56f 57g 58h 60j 62j 63i 72h 74f 75c 76d","9|51d 53e 55f 57g 58h 60j 63i 73h 74f 75d 76e","8.5|50.5d 51e 53f 55e 56e 57f 58h 60j 62i 71i 74h 75f 76e","8|50e 52f 53e 55d 56e 57f 58h 60i 72h 76g 77f","7.5|50d 51e 52f 53e 55e 56f 57h 58i 71h 73h 75h 76g 77f","7|50c 51d 54e 55f 56h 58i 73h 74i 75h 76f","6.5|49.5c 50c 51d 53d 54e 55f 56g 57h 58i 74i 75h 76f","6|49c 50d 53e 54f 55g 57h 58i 75h 76g","5.5|48.5d 49e 50e 53e 54f 55g 57h 59i 74h 75h 76g","5|48e 50f 51e 53f 54g 57h 59i 73h 75i","4.5|47.5e 48e 50f 51e 53f 54g 56g 57h 60i 73h 74i","4|47d 49e 50f 51e 53f 55g 58h 60i 65h 66i","3.5|46.5d 47d 49e 50e 51e 52d 53e 54f 55g 58h 60i","3|46c 48e 51d 54f 58g 59h 60i","2.5|45g 46e 47f 49e 50d 52d 53e 55f 57g 59h 60i","2|44g 46f 49e 50d 52e 54f 56g 58h 60i","1.5|44g 45f 47f 49f 50e 51d 53e 54f 56g 58h 60i 77j","1|43h 44g 45f 49g 50e 54f 57g 58h 60i 77j","0.5|43h 44g 45f 48g 49g 51e 52e 54f 57g 58h 60h 61i 77j","0|42h 43g 44f 52e 54f 56g 58h 62i 77j","-0.5|42h 43g 44f 47f 49g 50f 52f 53e 54f 56g 58h 64i 77j","-1|41i 42h 43g 45f 52e 54f 56g 57h 65i","-1.5|41i 42h 44g 44.5e 45f 48f 54g 56g 57g 58h 67i","-2|40i 42h 44f 48e 50f 57g 60h 70i","-2.5|40j 41i 43h 44g 45f 48e 50f 57g 60h 70i","-3|39.5k 40j 41k 43j 45g 46f 48e 49f 56g 60h 71i","-3.5|39.5k 41k 43j 44h 46f 47f 56f 57g 60h 71i","-4|39j 40k 42j 44h 45g 47f 48g 60h 71i"];
const rowsC2 = ["30.5|47k 52x","29|34l 38x 47k 52x","28|34l 38x 48k 53x","27.5|34k 38x 49k 50k 51m 52m 54m 55o 56t 57x","27|34k 38x 49.5k 50.5n 51p 52q 53r 54p 55n 56^ 57x","26.5|34k 38x 50k 51l 52n 53o 54n 55k 56t 57x","26|34k 38x 50k 52l 53m 54k 56.5m 57e 60e 61d 67x","25.5|36k 39x 57f 58e 60d 61d 62c 66d 67x","25|36k 39x 57h 58f 59e 60d 62c 65d 67x","24.5|36.5l 37l 40x 57.5h 58g 59e 60d 61d 62d 64d 66d 67x","24|37l 38m 40x 58h 59f 60d 61e 62d 64e 65d 68x","23.5|37m 38n 39l 41x 59f 60e 62e 64f 65g 66e 68d 69x","23|37m 38n 39k 41x 59e 60f 62e 64g 65i 66g 67e 69d 70x","22.5|37m 38o 39k 41x 59f 60g 62f 64g 65i 66g 67f 68e 69c 70b 71x","22|37n 38o 39l 41x 59f 60g 62f 63g 64h 66f 68e 69c 70b 71a 72@ 73x","21.5|37.5n 38o 39k 42x 59f 60f 61e 62f 63g 65g 66f 68f 69d 70a 71@ 73x","21|38o 39l 40j 42x 59f 60e 61d 62e 63f 65g 66f 67g 68f 69e 70b 71@ 73x","20.5|38o 39k 40j 42x 58e 59e 61d 62e 63f 64g 66g 67g 68f 69e 70b 71@ 73x","20|38o 39k 40j 42x 58d 59e 62d 63e 64g 66h 67g 68f 69e 70c 71@ 73x","19.5|38o 39j 43x 57d 58d 59e 61f 63g 64i 66h 67g 68g 69f 70d 71a 72@ 73x","19|38n 39.5j 43x 56c 57d 58e 61f 63h 64j 66i 67h 69f 70d 71a 72@ 73x","18.5|39j 43x 55d 56d 57e 58f 60f 62f 63h 64j 66i 67h 68h 69g 70e 71a 72@ 73x","18|39i 40j 43x 54d 55e 56f 57g 59e 63g 64j 66i 67h 68g 70e 71b 72@ 73x","17.5|39i 40j 43x 53e 54f 56g 57h 58g 59e 61e 63g 64i 66i 67h 68f 69f 70f 71c 72@ 73x","17|40i 41j 44x 52e 53f 55h 57i 58g 59f 60e 62f 63h 64i 67g 68e 69f 71c 72@ 74x","16.5|40.5i 41j 44x 51f 52f 54g 55g 57h 58h 59g 60f 62h 63i 64k 65j 67h 69g 71e 72b 73@ 74x","16|41j 44x 50e 51f 53g 56h 58i 59g 62i 63l 64m 65j 67i 69h 71f 72c 73a 74x","15.5|42i 44x 49f 50f 52g 55g 56g 58h 59g 62i 63m 64m 65k 67j 70i 71g 72e 73b 74@ 75x","15|42i 44x 48f 49g 55f 57g 62i 63m 64l 65k 66j 70i 71h 72f 73b 74@ 75x","14.5|42i 44x 46g 47g 49h 51h 52i 54h 56f 57g 61h 62i 63j 64k 65j 71i 72h 73f 74a 75x","14|42i 44x 45g 47h 48i 49g 51h 52j 55i 56h 57f 60g 61h 62i 64j 71j 72h 73f 74b 75x","13.5|43j 44j 45h 47i 49h 51h 52i 53j 55i 56h 57f 60g 61h 63h 64j 72i 73g 74c 75x","13|43k 45h 47i 51g 52h 53i 54j 55i 56h 57g 61h 64j 72j 73g 74c 75b 76x","12.5|44k 45i 46h 47i 48h 51f 52g 53h 54h 55j 56h 57g 59g 60h 62i 63j 73i 74e 75c 76x","12|44k 46h 47i 48g 51f 54g 55k 56h 57g 59h 61i 62j 73i 74f 75c 76x","11.5|44k 45j 46h 47i 48h 51g 53g 55k 56j 57h 58g 59h 60i 62j 74i 75e 76c 77x","11|44k 45i 46h 47i 51g 55k 57h 58g 59h 60i 62j 74i 75e 76c 77x","10.5|51g 52h 53g 55k 56j 57g 58f 59g 60h 61i 62j 74i 75f 76c","10|51g 52h 53g 55i 56f 57e 59f 60h 61i 62j 74i 75f 76c","9.5|51g 52i 54h 55h 56e 57e 59f 60h 61i 62j 74i 75g 76c","9|50.5h 51g 52i 55h 56e 59g 60h 61i 62j 74i 75g 76c","8.5|50.5g 51h 52i 53j 54i 55h 56f 57e 59f 60h 61i 62j 74i 75g 76d","8|50g 51h 52i 53j 54i 55g 56f 57e 59f 60g 61i 62j 74i 75h 76e","7.5|50g 51g 52h 53i 55h 56g 57f 59f 60h 61j 74i 75h 76f","7|50f 51g 53h 56g 58f 59g 60h 61j 74i 75h 76f 77e","6.5|49.5g 50f 52g 53h 55h 56h 57g 59g 60h 61i 62j 75i 76g","6|49g 50f 51g 52h 55i 56h 57g 59h 60i 61j 75i 76g","5.5|48.5f 50f 52g 54g 56g 57g 59h 60i 62j 75i 76h","5|48f 53g 56g 57f 58h 61i 62j 69i 72j 75i 76h","4.5|47.5f 53f 54g 56f 58g 59h 61i 63j 76i","4|47f 56f 58g 59h 61i 63j 64i 65j 76i","3.5|46.5f 47e 49f 53f 56f 58g 59h 61i 63j 72j 76i","3|46e 50f 52g 54f 56g 59h 61i 63j 72k 74k 76j 77i","2.5|45g 46e 48e 50f 52g 53f 55e 57f 58g 60h 61i 63j 69k 74k 75j","2|44g 45f 47e 50f 52g 53f 55e 56f 58g 59h 61i 63j 70k 75j","1.5|44g 46g 47f 48e 50f 52g 53f 54e 56f 57g 59h 61i 63j 69k 74j","1|43h 45g 50f 53e 55f 57g 59h 61i 63j 70k 73j","0.5|43h 45f 47g 48f 50f 52f 54e 56f 57g 58h 60i 63j 71k 72j","0|42i 44g 46f 47e 48d 49f 51g 52f 56g 58h 60i 63j","-0.5|42i 43g 46f 47e 49f 51g 52f 55g 57h 60i 63j","-1|41i 43h 44g 46f 55g 57h 60i 64j","-1.5|41i 43h 45g 47f 54f 55g 56h 58h 61i 65j","-2|40i 42h 44g 48f 54g 55h 57i 60h 62i 67j 73j","-2.5|40k 41i 42h 45g 48g 52g 55h 60h 64i 68i 71j 73i","-3|40l 41i 42h 46g 55h 56i 60h 66i 73j 74i","-3.5|39.5l 41i 42h 44h 46g 50g 54h 56i 62i 74i","-4|39.5k 41j 42i 44h 45g 47h 52i 58j 60i 68j 70i"];

// Coastlines, [lon, lat]
const coastAfrica = [[34,26.7],[34.8,25.4],[35.5,24.1],[35.7,23.2],[36.4,22.6],[37.1,22.1],[37.2,20.4],[37.3,19.1],[38.2,18.6],[38.8,18.1],[39.2,17],[39.5,15.9],[39.9,15.2],[40.6,14.9],[41.3,14.6],[42.3,13.6],[43.2,12.7],[43.35,12.2],[42.5,11.5],[43.2,11.6],[44.1,10.7],[44.8,10.4],[46,10.7],[47.5,11],[49.2,11.4],[50.2,11.6],[50.9,12],[51.3,11.9],[51.2,11.2],[50.9,10],[50.7,9],[49.9,7.65],[49.3,6.6],[48.8,5.6],[48,4.6],[47.1,3.6],[46.2,3],[45.4,2.6],[44.1,1.6],[43.2,0.6],[42.4,-0.4],[41,-2],[40.4,-2.6],[40,-3.1],[39.6,-4.2],[39.2,-5],[39,-5.6]];
const coastArabia = [[34,27.8],[35,28.2],[35.5,27.9],[36,27],[36.5,26],[37,25.4],[37.9,24.3],[38.7,23.7],[39,22.8],[39.3,22],[39.8,20.5],[40.5,19.8],[41.3,19.1],[42,18],[42.7,16.8],[42.9,15.4],[43.1,14],[43.4,12.7],[43.7,12.6],[45.4,13],[47.1,13.7],[48.8,14.4],[50.9,15.1],[52.2,15.7],[52.6,16.75],[54.6,17.3],[55.7,18],[56,19.1],[57.7,19.5],[58,20.5],[58.9,20.6],[59.4,21.6],[59.8,22.5],[59.8,23.9],[58.9,24.3],[57,25],[56.4,26.2],[56.35,26.4],[56,25.7],[55,24.8],[54.3,24.2],[52.25,24],[51.4,24.5],[51.6,25.7],[50.9,26],[50.7,24.8],[50.2,26.35],[48.8,28],[47.9,29.4],[48.2,29.9]];
const coastIran = [[48.2,29.9],[49.1,30.4],[50.1,30],[51.06,28.7],[52.6,27.9],[53.6,27],[54.6,26.7],[55.3,26.9],[56.2,27.1],[57,26.9],[57.2,25.85],[58.3,25.6],[59.4,25.45],[61,25.2],[62.8,25.2],[64.5,25.3],[66.2,25.6],[66.8,25],[67.3,24],[68.6,23.7],[70.3,23.1],[68.8,22.9],[69.8,21.7],[70.7,20.7],[72.2,21.3],[72.1,22.3],[72.7,22.2],[72.7,20.1],[73.1,18.1],[73.75,15.7],[74.6,13.6],[75.5,11.7],[76.5,9.3],[77.5,8.1],[78,8.3]];
const socotra = [[53.3,12.6],[53.8,12.7],[54.5,12.55],[54.2,12.3],[53.6,12.3],[53.3,12.6]];
const aqaba = [[34.4,27.9],[34.9,29.4],[34.6,28.2],[34.4,27.9]];
const islands = [[73,11.1],[73.2,8.3],[73.6,4.2],[73.5,3.2],[55.5,-4.7]];
const bigIslands = [[41.95,16.8],[40,15.75],[42.8,13.9],[42.75,15.4],[36.9,25.7],[50.5,26],[58.9,20.4],[40.2,15.6]];

// Layout: pixels of each panel
const panels = [
 {rows:rowsA, fine:false, l:86, r:521, t:29, b:375, x40:146, x70:441, y30:29, y0:326, name:'A', nx:170, ny:251},
 {rows:rowsA1,fine:true,  l:589,r:1007,t:33, b:379, x40:645, x70:936, y30:38, y0:329, name:'A.1', nx:654, ny:259},
 {rows:rowsA2,fine:true,  l:1071,r:1490,t:30,b:376, x40:1128,x70:1418,y30:35, y0:326, name:'A.2', nx:1136, ny:255},
 {rows:rowsB, fine:false, l:86, r:521, t:425,b:770, x40:146, x70:441, y30:425,y0:721, name:'B', nx:165, ny:645},
 {rows:rowsB1,fine:true,  l:589,r:1007,t:425,b:771, x40:645, x70:935, y30:431,y0:721, name:'B.1', nx:643, ny:644},
 {rows:rowsB2,fine:true,  l:1069,r:1488,t:425,b:771,x40:1126,x70:1416,y30:431,y0:721, name:'B.2', nx:1135, ny:642},
 {rows:rowsC, fine:false, l:86, r:521, t:830,b:1176,x40:146, x70:441, y30:830,y0:1127,name:'C', nx:175, ny:1048},
 {rows:rowsC1,fine:true,  l:589,r:1007,t:831,b:1177,x40:645, x70:935, y30:836,y0:1127,name:'C.1', nx:656, ny:1049},
 {rows:rowsC2,fine:true,  l:1069,r:1488,t:832,b:1177,x40:1126,x70:1416,y30:837,y0:1128,name:'C.2', nx:1148, ny:1049}
];
const serif = '"Liberation Serif"', sans = '"Liberation Sans"', deja = '"DejaVu Sans"';
const freeText = [
 ['CMIP5',296,7,23,0],['Direct Downscaling (DD)',834,14,23,0],['Bias-Corrected Downscaling (BCD)',1288,9,23,0],
 ['Latitude',9,222,23.5,-90],['Latitude',21,627,23.5,-90],['Latitude',21,1036,23.5,-90],
 ['Longitude',322,1234,23.5,0],['Longitude',801,1242,23.5,0],['Longitude',1292,1242,23.5,0],
 ['MPI',1527,232,23,90],['GFDL',1527,660,23,90],['IPSL',1527,1072,23,90],
 ['Primary Productivity (gC/m²/y)',782,1415,34.6,0]
];

function valueOf(ch){ return ch==='@'?-160:ch==='^'?160:-142.5+15*(ch.charCodeAt(0)-97); }
function colorOf(v){ return v<-150?underColor:v>150?overColor:levelColors[Math.min(19,Math.floor((v+150)/15))]; }
function decode(rows,fine){
  const out=[]; const bottom=fine?-4.8:-5;
  rows.forEach((r,k)=>{
    const [lat,s]=r.split('|'); const L=+lat;
    const next=k+1<rows.length?+rows[k+1].split('|')[0]:bottom;
    const runs=[...s.matchAll(/(\d+(?:\.\d+)?)([a-t@^x])/g)];
    runs.forEach((m,i)=>{
      if(m[2]==='x')return;
      out.push([+m[1],L,valueOf(m[2]),(i+1<runs.length?+runs[i+1][1]:78)-(+m[1]),L-next]);
    });
  });
  return out;
}
function cellItem(params,api){
  const lon=api.value(0),lat=api.value(1);
  const a=api.coord([lon,lat]),b=api.coord([lon+api.value(3),lat-api.value(4)]);
  const x0=Math.floor(a[0]),y0=Math.floor(a[1]),x1=Math.ceil(b[0]),y1=Math.ceil(b[1]);
  return {type:'rect',shape:{x:x0,y:y0,width:x1-x0,height:y1-y0},style:{fill:colorOf(api.value(2))},silent:true};
}
const landPolys=[
 coastAfrica.concat([[33,-6],[33,26.7]]),
 coastArabia.concat([[48.2,33],[33,33],[33,27.8]]),
 coastIran.concat([[80,8.3],[80,33],[48.2,33]])
];
const lines=[coastAfrica,coastArabia,coastIran,socotra,aqaba];
const grids=[],xAxes=[],yAxes=[],series=[];
const axisStyle={axisLine:{show:false,onZero:false},splitLine:{show:false}};
panels.forEach((p,i)=>{
  const kx=(p.x70-p.x40)/30, ky=(p.y0-p.y30)/30;
  grids.push({left:p.l,top:p.t,width:p.r-p.l,height:p.b-p.t,show:true,borderColor:'#3a3a3a',borderWidth:1.5,backgroundColor:'#fff'});
  xAxes.push({gridIndex:i,type:'value',min:40+(p.l-p.x40)/kx,max:40+(p.r-p.x40)/kx,...axisStyle,
    axisTick:{show:true,length:6,customValues:lonTicks,lineStyle:{color:'#333',width:1}},
    axisLabel:{customValues:lonTicks,formatter:v=>v+'°E',fontFamily:deja,fontSize:17,color:'#222',margin:10}});
  yAxes.push({gridIndex:i,type:'value',min:Math.min(-5,(p.y0-p.b)/ky),max:Math.max(30,(p.y0-p.t)/ky),...axisStyle,
    axisTick:{show:true,length:6,customValues:latTicks,lineStyle:{color:'#333',width:1}},
    axisLabel:{customValues:latTicks,formatter:v=>v===0?'0°':v<0?(-v)+'°S':v+'°N',fontFamily:deja,fontSize:17,color:'#222',margin:12}});
  series.push({type:'custom',coordinateSystem:'cartesian2d',xAxisIndex:i,yAxisIndex:i,clip:true,silent:true,z:2,progressive:0,animation:false,
    renderItem:cellItem,data:decode(p.rows,p.fine),encode:{x:0,y:1}});
  if(p.fine){
    series.push({type:'custom',coordinateSystem:'cartesian2d',xAxisIndex:i,yAxisIndex:i,clip:true,silent:true,z:3,animation:false,
      renderItem:(pr,api)=>({type:'polygon',shape:{points:landPolys[api.value(0)].map(c=>api.coord(c))},style:{fill:'#fff'}}),
      data:[[0],[1],[2]],encode:{x:-1,y:-1}});
  }
  lines.forEach(c=>series.push({type:'line',xAxisIndex:i,yAxisIndex:i,data:c,showSymbol:false,symbol:'none',silent:true,z:4,animation:false,clip:true,
    lineStyle:{color:'#111',width:1.7}}));
  series.push({type:'scatter',xAxisIndex:i,yAxisIndex:i,data:islands,symbolSize:2.6,itemStyle:{color:'#111'},silent:true,z:5,animation:false});
  series.push({type:'scatter',xAxisIndex:i,yAxisIndex:i,data:bigIslands,symbolSize:4.5,itemStyle:{color:'#111'},silent:true,z:5,animation:false});
});
// Colour bar
const cb=panels.length;
grids.push({left:466,top:1309,width:598,height:24,show:false});
xAxes.push({gridIndex:cb,type:'value',min:-165,max:165,...axisStyle,
  axisTick:{show:true,length:4,customValues:barTicks,lineStyle:{color:'#333',width:1}},
  axisLabel:{customValues:barLabels,formatter:v=>v<0?v+' ':''+v,fontFamily:serif,fontWeight:'bold',fontSize:30,color:'#1a1a1a',margin:10}});
xAxes.push({gridIndex:cb,type:'value',min:-165,max:165,position:'bottom',...axisStyle,
  axisTick:{show:true,length:8,customValues:barLabels,lineStyle:{color:'#333',width:1.2}},axisLabel:{show:false}});
yAxes.push({gridIndex:cb,type:'value',min:0,max:1,show:false});
const barData=barTicks.slice(0,-1).map((v,i)=>[v,barTicks[i+1],i]);
series.push({type:'custom',coordinateSystem:'cartesian2d',xAxisIndex:cb,yAxisIndex:cb,z:2,animation:false,silent:true,
  renderItem:(pr,api)=>{const a=api.coord([api.value(0),1]),b=api.coord([api.value(1),0]);
    return {type:'rect',shape:{x:a[0],y:a[1],width:b[0]-a[0]+.5,height:b[1]-a[1]},style:{fill:levelColors[api.value(2)]}};},
  data:barData,encode:{x:[0,1],y:-1}});
series.push({type:'custom',coordinateSystem:'cartesian2d',xAxisIndex:cb,yAxisIndex:cb,z:2,animation:false,silent:true,
  renderItem:(pr,api)=>{const tip=api.value(0),base=api.value(1);
    return {type:'polygon',shape:{points:[api.coord([tip,.5]),api.coord([base,1]),api.coord([base,0])]},style:{fill:tip<0?underColor:overColor}};},
  data:[[-165,-150],[165,150]],encode:{x:[0,1],y:-1}});
series.push({type:'line',xAxisIndex:cb,yAxisIndex:cb,data:[[-150,1],[150,1]],showSymbol:false,symbol:'none',z:3,silent:true,animation:false,lineStyle:{color:'#555',width:1}});
series.push({type:'line',xAxisIndex:cb,yAxisIndex:cb,data:[[-150,0],[150,0]],showSymbol:false,symbol:'none',z:3,silent:true,animation:false,lineStyle:{color:'#555',width:1}});

const graphic=[];
freeText.forEach(t=>graphic.push({type:'text',x:t[1],y:t[2],rotation:-t[4]*Math.PI/180,z:20,
  style:{text:t[0],fontFamily:serif,fontWeight:'bold',fontSize:t[3],fill:'#1a1a1a',textAlign:'center',textVerticalAlign:'middle'}}));
panels.forEach(p=>graphic.push({type:'text',x:p.nx,y:p.ny,z:20,
  style:{text:p.name,fontFamily:sans,fontWeight:'bold',fontSize:28,fill:'#000',textAlign:'center',textVerticalAlign:'middle'}}));

const chart=echarts.init(document.getElementById('c'),null,{renderer:'canvas',width:1536,height:1433});
chart.setOption({animation:false,backgroundColor:'#fff',grid:grids,xAxis:xAxes,yAxis:yAxes,series,graphic:{elements:graphic}});
</script></body></html>
